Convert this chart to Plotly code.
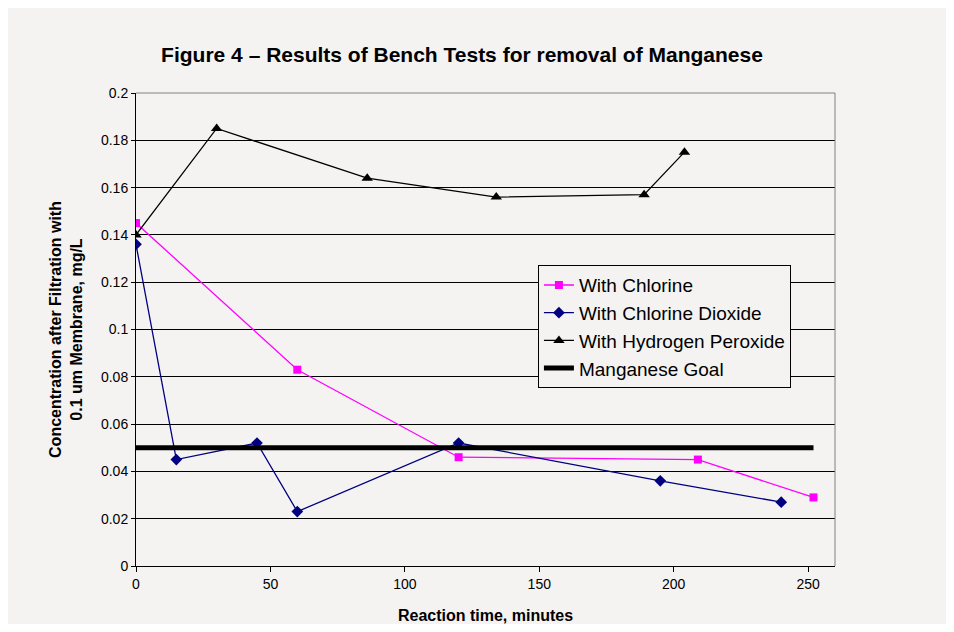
import plotly.graph_objects as go

# reaction time (minutes) and Mn concentration (mg/L)
chlorine_t = [0, 60, 120, 209, 252]
chlorine_c = [0.145, 0.083, 0.046, 0.045, 0.029]

dioxide_t = [0, 15, 45, 60, 120, 195, 240]
dioxide_c = [0.136, 0.045, 0.052, 0.023, 0.052, 0.036, 0.027]

peroxide_t = [0, 30, 86, 134, 189, 204]
peroxide_c = [0.140, 0.185, 0.164, 0.156, 0.157, 0.175]

goal_t = [0, 252]
goal_c = [0.05, 0.05]

x_ticks = [0, 50, 100, 150, 200, 250]

bg = "#f4f3f1"
font = "Liberation Sans, Arial, sans-serif"

# the page body adds 8px of margin, so the figure is a bit smaller
W, H = 938, 616

fig = go.Figure()
fig.add_trace(go.Scatter(x=chlorine_t, y=chlorine_c, name="With Chlorine",
                         mode="lines+markers",
                         line=dict(color="#ff00ff", width=1.3),
                         marker=dict(symbol="square", size=8, color="#ff00ff")))
fig.add_trace(go.Scatter(x=dioxide_t, y=dioxide_c, name="With Chlorine Dioxide",
                         mode="lines+markers",
                         line=dict(color="#000080", width=1.3),
                         marker=dict(symbol="diamond", size=9, color="#000080")))
fig.add_trace(go.Scatter(x=peroxide_t, y=peroxide_c, name="With Hydrogen Peroxide",
                         mode="lines+markers",
                         line=dict(color="black", width=1.3),
                         marker=dict(symbol="triangle-up", size=10, color="black")))
fig.add_trace(go.Scatter(x=goal_t, y=goal_c, name="Manganese Goal",
                         mode="lines", line=dict(color="black", width=5)))

fig.update_layout(
    width=W, height=H,
    margin=dict(l=128, r=111, t=85, b=58),
    paper_bgcolor=bg, plot_bgcolor=bg,
    font=dict(family=font, size=14, color="black"),
    title=dict(text="<b>Figure 4 – Results of Bench Tests for removal of Manganese</b>",
               x=454 / W, xanchor="center", y=1 - 47 / H, yanchor="middle",
               font=dict(size=21, family=font)),
    showlegend=True,
    legend=dict(x=0.575, y=0.636, xanchor="left", yanchor="top",
                bgcolor=bg, bordercolor="black", borderwidth=1,
                font=dict(size=19, family=font), tracegroupgap=0,
                itemwidth=30),
)

fig.update_xaxes(range=[0, 260], tickvals=x_ticks, automargin=False,
                 showgrid=False, zeroline=False,
                 showline=True, linecolor="black", linewidth=1,
                 ticks="outside", ticklen=5, tickcolor="black",
                 tickfont=dict(size=14),
                 title=dict(text="<b>Reaction time, minutes</b>",
                            font=dict(size=16), standoff=31))
fig.update_yaxes(range=[0, 0.2], dtick=0.02, automargin=False,
                 showgrid=True, gridcolor="black", gridwidth=1, zeroline=False,
                 showline=True, linecolor="black", linewidth=1,
                 ticks="outside", ticklen=4, tickcolor="black",
                 tickfont=dict(size=14),
                 title=dict(text="<b>Concentration after Filtration with<br>0.1 um Membrane, mg/L</b>",
                            font=dict(size=16), standoff=14))

# right and top frame of the plot area (gray, like the original)
fig.add_shape(type="line", xref="paper", yref="paper", x0=1, x1=1, y0=0, y1=1,
              line=dict(color="#808080", width=1))
fig.add_shape(type="line", xref="paper", yref="paper", x0=0, x1=1, y0=1, y1=1,
              line=dict(color="#808080", width=1))

fig.write_html("out.html")
